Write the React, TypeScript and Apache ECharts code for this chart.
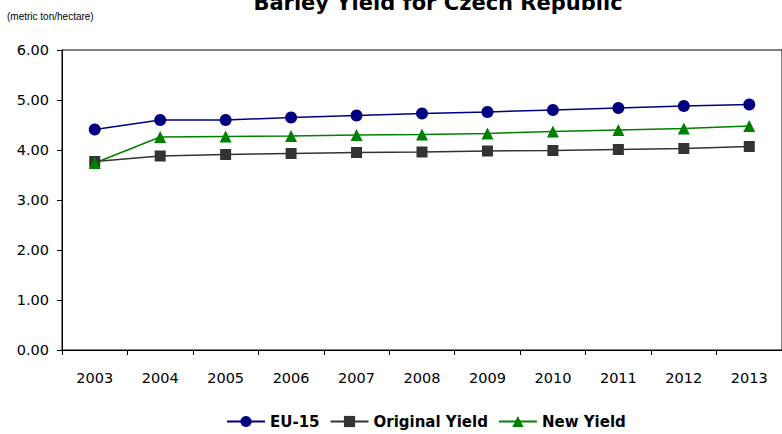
import React, { useEffect, useRef } from "react";
import * as echarts from "echarts";

const years = ["2003", "2004", "2005", "2006", "2007", "2008", "2009", "2010", "2011", "2012", "2013"];
const eu15 = [4.41, 4.6, 4.6, 4.65, 4.69, 4.73, 4.76, 4.8, 4.84, 4.88, 4.91];
const originalYield = [3.77, 3.88, 3.91, 3.93, 3.95, 3.96, 3.98, 3.99, 4.01, 4.03, 4.07];
const newYield = [3.74, 4.26, 4.27, 4.28, 4.3, 4.31, 4.33, 4.37, 4.4, 4.43, 4.48];

const FONT = "'DejaVu Sans', sans-serif";
const NARROW = "'Liberation Sans', Arial, sans-serif";

export default function App() {
  const ref = useRef<HTMLDivElement>(null);
  useEffect(() => {
    if (!ref.current) return;
    const chart = echarts.init(ref.current, undefined, { renderer: "svg" });
    chart.setOption({
      animation: false,
      backgroundColor: "#ffffff",
      textStyle: { fontFamily: FONT },
      title: [
        {
          text: "Barley Yield for Czech Republic",
          left: 433,
          textAlign: "center",
          top: -13,
          textStyle: { fontSize: 21, fontWeight: "bold", color: "#000", fontFamily: FONT },
        },
        {
          text: "(metric ton/hectare)",
          left: 2,
          top: 6,
          textStyle: { fontSize: 10, fontWeight: "normal", color: "#000", fontFamily: NARROW },
        },
      ],
      grid: {
        left: 62,
        right: 0,
        top: 50,
        bottom: 84,
        show: true,
        borderColor: "#000",
        borderWidth: 1,
        backgroundColor: "transparent",
      },
      legend: {
        top: 409,
        left: 221,
        itemWidth: 38,
        itemHeight: 14,
        itemGap: 10,
        textStyle: { fontSize: 15, fontWeight: "bold", color: "#000", fontFamily: FONT },
        data: ["EU-15", "Original Yield", "New Yield"],
      },
      xAxis: {
        type: "category",
        data: years,
        boundaryGap: true,
        axisLine: { lineStyle: { color: "#000", width: 1 } },
        axisTick: { show: true, inside: false, length: 5, alignWithLabel: false, lineStyle: { color: "#000" } },
        axisLabel: { fontSize: 14.5, color: "#000", margin: 20, fontFamily: FONT },
        splitLine: { show: false },
      },
      yAxis: {
        type: "value",
        min: 0,
        max: 6,
        interval: 1,
        axisLine: { show: true, lineStyle: { color: "#000", width: 1 } },
        axisTick: { show: true, length: 5, lineStyle: { color: "#000" } },
        axisLabel: {
          fontSize: 14.5,
          color: "#000",
          margin: 13,
          fontFamily: FONT,
          formatter: (v: number) => v.toFixed(2),
        },
        splitLine: { show: false },
      },
      series: [
        {
          name: "EU-15",
          type: "line",
          data: eu15,
          symbol: "circle",
          symbolSize: 12,
          color: "#000080",
          lineStyle: { color: "#000080", width: 1.5 },
          itemStyle: { color: "#000080" },
        },
        {
          name: "Original Yield",
          type: "line",
          data: originalYield,
          symbol: "rect",
          symbolSize: 11,
          color: "#333333",
          lineStyle: { color: "#333333", width: 1.5 },
          itemStyle: { color: "#333333" },
        },
        {
          name: "New Yield",
          type: "line",
          data: newYield,
          symbol: "triangle",
          symbolSize: 12,
          color: "#008000",
          lineStyle: { color: "#008000", width: 1.5 },
          itemStyle: { color: "#008000" },
        },
      ],
    });
    return () => chart.dispose();
  }, []);
  return <div ref={ref} style={{ width: 782, height: 434, position: "absolute", left: 0, top: 0 }} />;
}
